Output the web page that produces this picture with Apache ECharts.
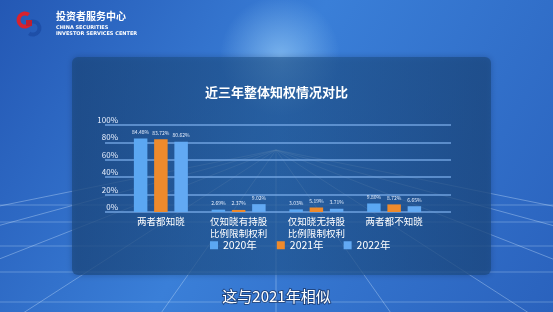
<!DOCTYPE html>
<html><head><meta charset="utf-8">
<script src="https://cdn.jsdelivr.net/npm/echarts@6/dist/echarts.min.js"></script>
<style>html,body{margin:0;padding:0;background:#2f6bc4}#c{width:553px;height:312px}</style>
</head><body><div id="c"></div>
<script>
const categories = ['两者都知晓', '仅知晓有持股\n比例限制权利', '仅知晓无持股\n比例限制权利', '两者都不知晓'];
const seriesNames = ['2020年', '2021年', '2022年'];
const y2020 = [84.48, 2.69, 3.03, 9.80];
const y2021 = [83.72, 2.37, 5.19, 8.72];
const y2022 = [80.62, 9.02, 3.71, 6.65];
const yTicks = [0, 20, 40, 60, 80, 100];

const FONT = '"Noto Sans CJK SC", "Noto Sans", sans-serif';
const chart = echarts.init(document.getElementById('c'), null, {renderer: 'canvas'});

// decorative perspective floor lines
const deco = [];
const vx = 276, vy = 150;
[-700,-520,-360,-220,-100,0,100,220,360,520,700].forEach(function(dx){
  deco.push({type:'line', z:-9, silent:true, shape:{x1:vx, y1:vy, x2:vx+dx*2.2, y2:462}, style:{stroke:'rgba(210,232,255,0.45)', lineWidth:0.8}});
});
[205, 222, 246, 272, 302].forEach(function(y){
  deco.push({type:'line', z:-9, silent:true, shape:{x1:0, y1:y, x2:553, y2:y}, style:{stroke:'rgba(210,232,255,0.38)', lineWidth:0.8}});
});

const bar = (name, data, color) => ({
  name: name, type: 'bar', xAxisIndex: 1, yAxisIndex: 1, data: data,
  barWidth: 13.5, barGap: '50%',
  itemStyle: {color: color},
  label: {show: true, position: 'top', distance: 4, fontSize: 5, color: '#e6efff', fontFamily: FONT,
          formatter: p => p.value.toFixed(2) + '%'}
});

chart.setOption({
  backgroundColor: {type:'linear', x:0, y:0, x2:1, y2:1, colorStops:[
    {offset:0, color:'#2458b4'}, {offset:0.45, color:'#3a7fd8'}, {offset:1, color:'#2a62bd'}]},
  animation: false,
  title: {text: '近三年整体知权情况对比', left: 'center', top: 81,
    textStyle: {color: '#ffffff', fontSize: 13, fontWeight: 'bold', fontFamily: FONT}},
  legend: {data: seriesNames, left: 205, top: 235, icon: 'rect', itemWidth: 8, itemHeight: 8, itemGap: 20,
    textStyle: {color: '#ffffff', fontSize: 10.5, fontFamily: FONT}},
  grid: [
    {left: 105, right: 102, top: 125, bottom: 100},
    {left: 122, right: 120, top: 125, bottom: 100}
  ],
  xAxis: [
    {gridIndex: 0, type: 'category', data: categories, show: false},
    {gridIndex: 1, type: 'category', data: categories,
     axisLine: {show: false}, axisTick: {show: false},
     axisLabel: {color: '#ffffff', fontSize: 9.5, lineHeight: 11.5, margin: 4, fontFamily: FONT, interval: 0}}
  ],
  yAxis: [
    {gridIndex: 0, type: 'value', min: 0, max: 100, interval: 20,
     axisLine: {show: false}, axisTick: {show: false},
     axisLabel: {color: '#e8f0ff', fontSize: 8, margin: -13, verticalAlign: 'bottom', padding: [0,0,1,0],
                 fontFamily: FONT, formatter: '{value}%'},
     splitLine: {lineStyle: {color: 'rgba(125,175,235,0.85)', width: 1.5}}},
    {gridIndex: 1, type: 'value', min: 0, max: 100, interval: 20, show: false}
  ],
  series: [
    bar(seriesNames[0], y2020, '#5ba7f2'),
    bar(seriesNames[1], y2021, '#ee8a2c'),
    bar(seriesNames[2], y2022, '#62a9f3')
  ],
  graphic: [
    {type:'group', z:-10, silent:true, children: deco.concat([
      {type:'circle', z:-8, shape:{cx:280, cy:56, r:60}, style:{fill:{type:'radial', x:0.5, y:0.5, r:0.5, colorStops:[{offset:0,color:'rgba(170,220,255,0.55)'},{offset:1,color:'rgba(170,220,255,0)'}]}}},
      {type:'rect', z:-7, shape:{x:72, y:57, width:419, height:218, r:6},
       style:{fill:{type:'linear', x:0, y:0, x2:1, y2:0, colorStops:[{offset:0,color:'rgba(28,74,130,0.72)'},{offset:0.5,color:'rgba(34,90,150,0.62)'},{offset:1,color:'rgba(28,74,130,0.72)'}]},
              shadowBlur: 6, shadowColor:'rgba(10,30,70,0.4)'}}
    ])},
    // logo
    {type:'group', left: 16, top: 11, silent:true, children:[
      {type:'arc', shape:{cx:9, cy:9, r:6.5, startAngle:Math.PI*0.2, endAngle:Math.PI*1.7}, style:{stroke:'#d8222e', lineWidth:4, fill:null}},
      {type:'arc', shape:{cx:17, cy:17, r:6.5, startAngle:Math.PI*1.2, endAngle:Math.PI*2.7}, style:{stroke:'#1e4fa8', lineWidth:4, fill:null}},
      {type:'rect', shape:{x:10, y:9, width:6, height:6}, style:{fill:'#c01f2e'}}
    ]},
    {type:'text', left: 56, top: 11, style:{text:'投资者服务中心', fill:'#ffffff', font:'bold 10px ' + FONT}},
    {type:'text', left: 56, top: 25, style:{text:'CHINA SECURITIES', fill:'#ffffff', font:'bold 5px "DejaVu Sans", sans-serif'}},
    {type:'text', left: 56, top: 31, style:{text:'INVESTOR SERVICES CENTER', fill:'#ffffff', font:'bold 5px "DejaVu Sans", sans-serif'}},
    // subtitle
    {type:'text', left: 'center', top: 288, style:{text:'这与2021年相似', fill:'#ffffff', font:'15px ' + FONT,
      stroke:'rgba(20,40,80,0.6)', lineWidth:2}}
  ]
});
</script></body></html>
